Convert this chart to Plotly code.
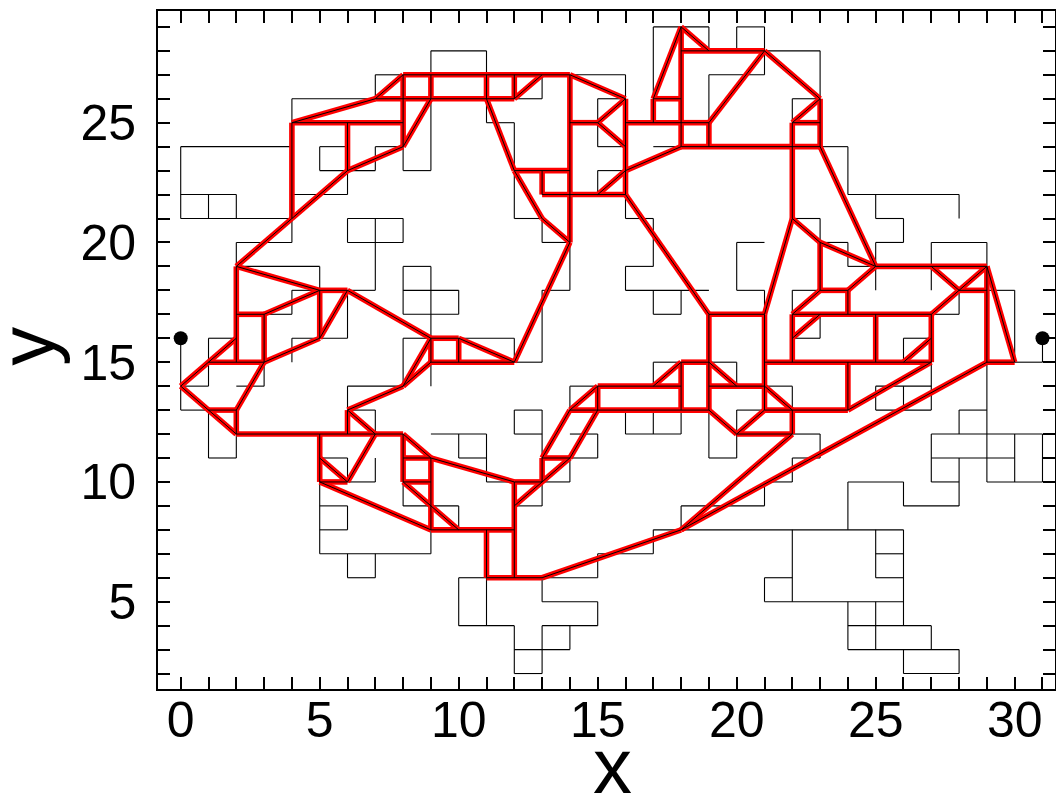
import plotly.graph_objects as go

# Lattice cluster: horizontal unit edges as (y, x_start, x_end)
black_h = [
    (29, 17, 19), (29, 20, 21), (28, 9, 11), (28, 21, 23), (27, 7, 8), (27, 14, 16),
    (27, 19, 21), (26, 4, 7), (26, 12, 13), (26, 15, 16), (26, 22, 23), (25, 11, 12),
    (24, 0, 4), (24, 5, 6), (24, 7, 8), (24, 15, 16), (24, 17, 18), (24, 23, 24),
    (23, 5, 7), (23, 8, 9), (23, 15, 16), (22, 0, 2), (22, 4, 6), (22, 24, 28),
    (21, 0, 4), (21, 6, 8), (21, 12, 13), (21, 16, 17), (21, 22, 23), (21, 25, 26),
    (20, 2, 4), (20, 6, 8), (20, 13, 14), (20, 20, 21), (20, 23, 24), (20, 25, 26),
    (20, 27, 29), (19, 2, 5), (19, 8, 9), (19, 16, 17), (19, 24, 25), (18, 4, 5),
    (18, 6, 7), (18, 8, 10), (18, 13, 14), (18, 16, 19), (18, 20, 21), (18, 22, 23),
    (18, 29, 30), (17, 3, 4), (17, 8, 10), (17, 17, 18), (17, 27, 28), (16, 1, 2),
    (16, 4, 6), (16, 8, 9), (16, 10, 12), (16, 22, 23), (16, 26, 27), (15, 12, 13),
    (15, 17, 18), (15, 19, 20), (15, 30, 31), (14, 0, 1), (14, 2, 3), (14, 6, 8),
    (14, 14, 15), (14, 21, 22), (14, 25, 27), (13, 0, 1), (13, 6, 7), (13, 12, 13),
    (13, 16, 18), (13, 20, 21), (13, 25, 27), (13, 28, 29), (12, 9, 11), (12, 12, 13),
    (12, 14, 15), (12, 16, 18), (12, 22, 23), (12, 27, 31), (11, 1, 2), (11, 5, 6),
    (11, 10, 11), (11, 14, 15), (11, 19, 20), (11, 22, 23), (11, 27, 30), (10, 6, 7),
    (10, 11, 12), (10, 13, 14), (10, 21, 22), (10, 24, 26), (10, 27, 28), (10, 29, 31),
    (9, 5, 6), (9, 8, 10), (9, 12, 13), (9, 18, 21), (9, 26, 28), (8, 5, 6),
    (8, 17, 26), (7, 5, 9), (7, 15, 17), (7, 25, 26), (6, 6, 7), (6, 10, 11),
    (6, 13, 15), (6, 21, 22), (6, 25, 26), (5, 13, 15), (5, 21, 26), (4, 10, 12),
    (4, 13, 15), (4, 24, 27), (3, 12, 14), (3, 24, 28), (2, 12, 13), (2, 26, 28),
]

# Lattice cluster: vertical unit edges as (x, y_start, y_end)
black_v = [
    (0, 21, 24), (1, 21, 22), (2, 21, 22), (4, 25, 26), (7, 26, 27), (9, 27, 28),
    (5, 23, 24), (7, 23, 24), (8, 23, 24), (9, 23, 26), (6, 22, 23), (6, 20, 21),
    (7, 20, 21), (8, 20, 21), (4, 20, 21), (2, 19, 20), (11, 27, 28), (16, 26, 27),
    (17, 26, 29), (19, 28, 29), (20, 28, 29), (21, 27, 29), (19, 25, 27), (11, 25, 26),
    (12, 21, 25), (13, 26, 27), (13, 20, 21), (15, 24, 26), (15, 22, 23), (16, 21, 22),
    (17, 19, 21), (23, 26, 28), (22, 25, 26), (24, 22, 24), (25, 21, 22), (28, 21, 22),
    (26, 20, 21), (23, 20, 21), (24, 19, 20), (25, 18, 20), (27, 18, 20), (29, 19, 20),
    (28, 17, 18), (30, 15, 18), (31, 15, 16), (21, 17, 18), (22, 17, 18), (23, 16, 17),
    (26, 15, 16), (22, 13, 14), (25, 13, 14), (26, 13, 14), (27, 13, 15), (28, 12, 13),
    (27, 10, 12), (28, 10, 11), (29, 10, 15), (30, 10, 12), (31, 10, 12), (23, 11, 12),
    (22, 10, 11), (21, 9, 10), (28, 9, 10), (26, 9, 10), (24, 8, 10), (22, 5, 8),
    (25, 6, 8), (26, 4, 8), (21, 5, 6), (24, 3, 5), (25, 3, 5), (27, 3, 4),
    (26, 2, 3), (28, 2, 3), (7, 18, 20), (5, 18, 19), (4, 17, 18), (6, 16, 18),
    (8, 17, 19), (9, 16, 19), (10, 17, 18), (4, 15, 16), (1, 15, 16), (0, 13, 16),
    (1, 14, 15), (3, 14, 15), (1, 11, 13), (2, 11, 12), (6, 13, 14), (7, 12, 13),
    (8, 14, 16), (9, 14, 15), (10, 11, 12), (6, 10, 11), (14, 18, 20), (13, 15, 18),
    (12, 15, 16), (16, 18, 19), (17, 17, 18), (18, 17, 18), (20, 18, 20), (17, 14, 15),
    (20, 14, 15), (14, 13, 14), (12, 12, 13), (13, 11, 13), (16, 12, 13), (17, 12, 13),
    (18, 12, 13), (15, 11, 12), (19, 11, 13), (20, 11, 13), (11, 10, 12), (7, 10, 11),
    (5, 7, 10), (6, 8, 9), (6, 6, 7), (7, 6, 7), (9, 7, 8), (8, 9, 10),
    (10, 8, 9), (10, 4, 6), (11, 4, 6), (12, 2, 4), (13, 2, 4), (14, 3, 4),
    (15, 4, 5), (13, 5, 6), (15, 6, 7), (17, 7, 8), (18, 8, 9), (13, 9, 10),
    (14, 10, 11),
]

# Backbone network edges as (x0, y0, x1, y1)
red_edges = [
    (2, 19, 4, 21), (4, 21, 6, 23), (6, 23, 8, 24), (8, 24, 9, 26), (4, 21, 4, 25),
    (4, 25, 8, 25), (6, 25, 6, 23), (4, 25, 7, 26), (7, 26, 8, 27), (8, 27, 8, 24),
    (8, 27, 14, 27), (9, 27, 9, 26), (7, 26, 12, 26), (11, 27, 11, 26), (12, 27, 12, 26),
    (12, 26, 13, 27), (11, 26, 12, 23), (12, 23, 14, 23), (13, 23, 13, 22), (13, 22, 16, 22),
    (12, 23, 13, 21), (13, 21, 14, 20), (14, 27, 14, 20), (14, 25, 15, 25), (14, 27, 16, 26),
    (16, 26, 16, 22), (15, 25, 16, 26), (15, 25, 16, 24), (16, 25, 18, 25), (17, 26, 17, 25),
    (17, 26, 18, 26), (18, 29, 18, 24), (17, 26, 18, 29), (18, 29, 19, 28), (18, 28, 21, 28),
    (19, 25, 21, 28), (18, 25, 19, 25), (19, 25, 19, 24), (18, 24, 23, 24), (16, 23, 18, 24),
    (15, 22, 16, 23), (16, 22, 19, 17), (21, 28, 23, 26), (22, 25, 23, 26), (22, 25, 23, 25),
    (22, 25, 22, 21), (23, 26, 23, 24), (22, 21, 21, 17), (22, 21, 23, 20), (23, 24, 25, 19),
    (2, 19, 5, 18), (2, 19, 2, 15), (2, 17, 3, 17), (3, 17, 3, 15), (3, 17, 5, 18),
    (5, 18, 5, 16), (5, 16, 6, 18), (5, 18, 6, 18), (6, 18, 9, 16), (3, 15, 5, 16),
    (1, 15, 3, 15), (0, 14, 2, 16), (0, 14, 2, 12), (1, 13, 2, 13), (2, 13, 2, 12),
    (2, 13, 3, 15), (2, 12, 8, 12), (6, 13, 6, 12), (6, 13, 8, 14), (8, 14, 9, 16),
    (8, 14, 9, 15), (9, 16, 10, 16), (9, 15, 12, 15), (9, 16, 9, 15), (10, 16, 10, 15),
    (6, 13, 7, 12), (7, 12, 6, 10), (5, 12, 5, 10), (5, 11, 6, 10), (8, 12, 9, 11),
    (8, 12, 8, 10), (8, 11, 9, 11), (9, 11, 9, 8), (9, 11, 12, 10), (10, 16, 12, 15),
    (14, 20, 12, 15), (19, 17, 21, 17), (19, 17, 19, 13), (18, 15, 19, 15), (18, 15, 18, 13),
    (17, 14, 18, 15), (19, 15, 20, 14), (15, 14, 18, 14), (19, 14, 21, 14), (14, 13, 19, 13),
    (15, 14, 15, 13), (14, 13, 15, 14), (14, 13, 13, 11), (15, 13, 14, 11), (13, 11, 14, 11),
    (13, 11, 13, 10), (19, 13, 20, 12), (20, 12, 22, 12), (20, 12, 21, 13), (23, 20, 23, 18),
    (23, 20, 25, 19), (25, 19, 29, 19), (27, 19, 28, 18), (28, 18, 29, 19), (28, 18, 27, 17),
    (28, 18, 29, 18), (29, 19, 29, 15), (29, 19, 30, 15), (29, 15, 30, 15), (23, 18, 24, 18),
    (24, 18, 25, 19), (24, 18, 24, 17), (22, 17, 23, 18), (22, 17, 27, 17), (22, 16, 23, 17),
    (22, 17, 22, 15), (25, 17, 25, 15), (21, 15, 27, 15), (27, 17, 27, 15), (26, 15, 27, 16),
    (24, 13, 27, 15), (24, 15, 24, 13), (21, 13, 24, 13), (21, 17, 21, 13), (21, 14, 22, 13),
    (22, 13, 22, 12), (22, 12, 18, 8), (29, 15, 18, 8), (5, 10, 9, 8), (5, 10, 6, 10),
    (8, 10, 9, 10), (8, 10, 10, 8), (9, 8, 12, 8), (12, 10, 12, 6), (12, 9, 14, 11),
    (12, 10, 13, 10), (11, 8, 11, 6), (11, 6, 13, 6), (13, 6, 18, 8),
]

# Terminal sites
end_x = [0, 31]
end_y = [16, 16]


def seg_xy(segs):
    xs, ys = [], []
    for x0, y0, x1, y1 in segs:
        xs += [x0, x1, None]
        ys += [y0, y1, None]
    return xs, ys


lattice = [(x0, y, x1, y) for y, x0, x1 in black_h] + [(x, y0, x, y1) for x, y0, y1 in black_v]
lx, ly = seg_xy(lattice)
rx, ry = seg_xy(red_edges)

fig = go.Figure()
fig.add_trace(go.Scatter(x=lx, y=ly, mode="lines", line=dict(color="black", width=1.1),
                         hoverinfo="skip", showlegend=False))
fig.add_trace(go.Scatter(x=rx, y=ry, mode="lines", line=dict(color="#ff0000", width=5.6),
                         hoverinfo="skip", showlegend=False))
fig.add_trace(go.Scatter(x=rx, y=ry, mode="lines", line=dict(color="black", width=1.0),
                         hoverinfo="skip", showlegend=False))
fig.add_trace(go.Scatter(x=end_x, y=end_y, mode="markers",
                         marker=dict(color="black", size=14), showlegend=False))

font = "Arial, Liberation Sans, sans-serif"
axis_common = dict(
    showgrid=False, zeroline=False, showline=True, linecolor="black", linewidth=1.6,
    mirror="allticks", ticks="inside", ticklen=12, tickwidth=2, tickcolor="black",
    tickfont=dict(family=font, size=50, color="black"), automargin=False,
    minor=dict(dtick=1, ticks="inside", ticklen=12, tickwidth=2, tickcolor="black", showgrid=False),
)

fig.update_xaxes(range=[-0.817, 31.45], tick0=0, dtick=5, ticklabelstandoff=-14, **axis_common)
fig.update_yaxes(range=[1.354, 29.664], tick0=0, dtick=5, ticklabelstandoff=10, **axis_common)

# Axis titles placed as annotations
fig.add_annotation(text="x", xref="paper", yref="paper", x=0.5067, y=-0.113,
                   xanchor="center", yanchor="middle", showarrow=False,
                   font=dict(family=font, size=78, color="black"))
fig.add_annotation(text="y", xref="paper", yref="paper", x=-0.147, y=0.505,
                   xanchor="center", yanchor="middle", showarrow=False, textangle=-90,
                   font=dict(family=font, size=78, color="black"))

fig.update_layout(
    width=1056, height=795,
    margin=dict(l=158, r=1, t=11, b=106),
    plot_bgcolor="white", paper_bgcolor="white",
)

fig.write_html("out.html")
